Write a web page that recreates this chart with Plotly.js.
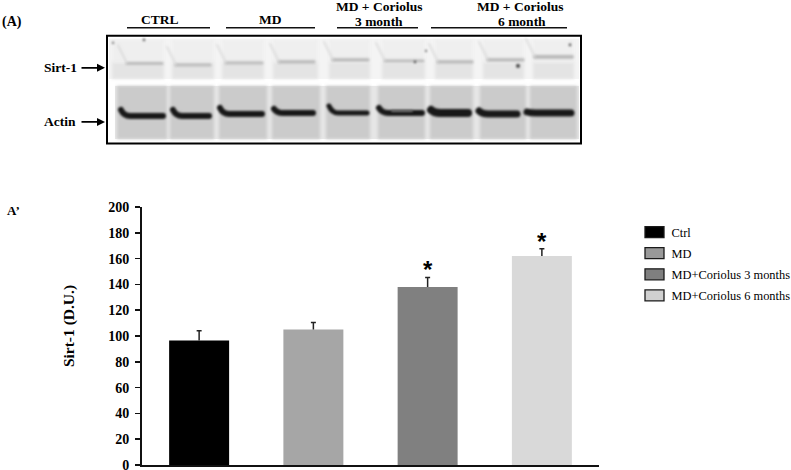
<!DOCTYPE html>
<html>
<head>
<meta charset="utf-8">
<script src="https://cdn.plot.ly/plotly-3.0.1.min.js"></script>
<style>
html,body{margin:0;padding:0;background:#fff;overflow:hidden}
</style>
</head>
<body>
<div id="plot" style="width:791px;height:470px"></div>
<script>
// bar chart values
let groups = ['Ctrl', 'MD', 'MD+Coriolus 3 months', 'MD+Coriolus 6 months'];
let means = [96.5, 105, 138, 162];
let errors = [7.5, 5.5, 7.4, 5.6];
let colors = ['#000000', '#a6a6a6', '#808080', '#d9d9d9'];
let swatchColors = ['#000000', '#999999', '#7f7f7f', '#d0d0d0'];
let starred = ['MD+Coriolus 3 months', 'MD+Coriolus 6 months'];

// blot lanes, in picture pixels: [left, right]
let sirtLanes = [[112,164],[172,214],[222,264],[273,318],[329,370],[382,425],[435,473],[483,524],[533,574]];
let actinLanes = [[117,167],[170,214],[219,267],[272,320],[326,370],[378,425],[430,473],[480,526],[530,577]];
// blot bands: [left, right, y, thickness, y of the left end]
let sirtBands = [[127,162,63.5,3],[176,210,65,3],[226,262,63,3],[279,314,62,3.5],[333,368,60,3.5],[385,423,61,3],[438,472,62,3.5],[488,523,60,3.5],[535,572,57,4]];
let actinBands = [[121,163,116,6,110],[173,209,116,6,110],[220,262,114,6,108],[274,313,113,6,109],[329,367,113,5,106],[379,422,113,6,108],[431,468,113,8,110],[479,517,114,7,111],[527,571,113,7,112]];
// specks on the membrane: [x, y, radius]
let specks = [[144,40,1.2],[113,43,1],[518,66,2],[570,45,1.3],[426,51,1],[415,62,1.2]];

// plot area in picture pixels, used to place the panel A items
const left = 142, width = 457, bottom = 464.7, height = 257.7;
function px(x){ return (x - left) / width; }
function py(y){ return (bottom - y) / height; }

function drawBlot(){
    let c = document.createElement('canvas');
    c.width = 476; c.height = 110;
    let g = c.getContext('2d');
    g.fillStyle = '#ffffff';
    g.fillRect(0, 0, 476, 110);
    g.translate(-106, -35);
    g.fillStyle = '#f4f4f4';
    g.fillRect(109, 39, 470, 40);
    g.fillStyle = '#e6e6e6';
    g.fillRect(115, 86, 464, 53);
    g.filter = 'blur(1.5px)';
    for (const l of sirtLanes) {
        g.fillStyle = '#efefef';
        g.fillRect(l[0], 40, l[1]-l[0], 23);
        g.fillStyle = '#e4e4e4';
        g.fillRect(l[0], 63, l[1]-l[0], 16);
    }
    for (const l of actinLanes) {
        g.fillStyle = '#cbcbcb';
        g.fillRect(l[0], 86, l[1]-l[0], 53);
    }
    g.filter = 'blur(1px)';
    g.lineCap = 'round';
    for (const b of sirtBands) {
        g.strokeStyle = '#bcbcbc';
        g.lineWidth = b[3];
        g.beginPath(); g.moveTo(b[0], b[2]); g.lineTo(b[1], b[2]); g.stroke();
        g.strokeStyle = '#d8d8d8';
        g.lineWidth = 1.5;
        g.beginPath(); g.moveTo(b[0]-9, b[2]-18); g.lineTo(b[0], b[2]); g.stroke();
    }
    for (const b of actinBands) {
        g.strokeStyle = '#181818';
        g.lineWidth = b[3];
        g.beginPath(); g.moveTo(b[0], b[4]); g.quadraticCurveTo(b[0]+3, b[2], b[0]+9, b[2]);
        g.lineTo(b[1], b[2]); g.stroke();
    }
    // lighter middle of the sixth actin band
    g.strokeStyle = '#777777'; g.lineWidth = 2;
    g.beginPath(); g.moveTo(392, 111); g.lineTo(412, 111); g.stroke();
    g.fillStyle = '#444444';
    for (const s of specks) {
        g.beginPath(); g.arc(s[0], s[1], s[2], 0, 7); g.fill();
    }
    return c.toDataURL('image/png');
}

let traces = [];
for (let i = 0; i < groups.length; i++) {
    traces.push({
        type: 'bar',
        name: groups[i],
        legendgroup: groups[i],
        x: [groups[i]],
        y: [means[i]],
        width: 0.525,
        marker: {color: colors[i]},
        error_y: {type: 'data', array: [errors[i]], symmetric: false, arrayminus: [0], color: '#222222', thickness: 1.5, width: 2.5},
        hoverinfo: 'y'
    });
}

const serif = '"Liberation Serif", serif';
function label(text, x, y, size, anchor){
    return {text: text, xref: 'paper', yref: 'paper', x: px(x), y: py(y), showarrow: false, xanchor: anchor || 'center', yanchor: 'middle',
        font: {family: serif, size: size, color: '#000000'}};
}
function arrow(x, y){
    return {text: '', xref: 'paper', yref: 'paper', x: px(x), y: py(y), ax: -25, ay: 0, showarrow: true, arrowhead: 2, arrowsize: 1, arrowwidth: 1.6, arrowcolor: '#000000'};
}
function rule(x0, x1, y){
    return {type: 'line', xref: 'paper', yref: 'paper', x0: px(x0), x1: px(x1), y0: py(y), y1: py(y), line: {color: '#111111', width: 1.5}};
}

let annotations = [
    label('<b>(A)</b>', 0, 22, 14, 'left'),
    label('<b>A’</b>', 5, 210, 13, 'left'),
    label('<b>CTRL</b>', 160, 20, 13.5),
    label('<b>MD</b>', 270, 20, 13.5),
    label('<b>MD + Coriolus</b>', 379, 7, 13.5),
    label('<b>3 month</b>', 379, 22, 13.5),
    label('<b>MD + Coriolus</b>', 520, 7, 13.5),
    label('<b>6 month</b>', 522, 22, 13.5),
    label('<b>Sirt-1</b>', 60, 68, 13.5),
    label('<b>Actin</b>', 60, 122, 13.5),
    arrow(105, 68),
    arrow(105, 122)
];
for (const s of starred) {
    let i = groups.indexOf(s);
    annotations.push({text: '*', x: s, y: means[i] + errors[i], yanchor: 'bottom', yshift: -8, showarrow: false,
        font: {family: '"Liberation Sans", sans-serif', size: 24, color: '#000000', weight: 'bold'}});
}

let layout = {
    width: 791,
    height: 470,
    margin: {l: 142, r: 192, t: 207.3, b: 5.3, pad: 0, autoexpand: false},
    paper_bgcolor: '#ffffff',
    plot_bgcolor: '#ffffff',
    barmode: 'overlay',
    xaxis: {type: 'category', range: [-0.5, 3.5], showticklabels: false, ticks: '', showline: true, linecolor: '#111111', linewidth: 2, showgrid: false, zeroline: false, fixedrange: true},
    yaxis: {range: [0, 200], tick0: 0, dtick: 20, ticks: 'outside', ticklen: 5, tickwidth: 1.6, tickcolor: '#111111', showline: true, linecolor: '#111111', linewidth: 2,
        showgrid: false, zeroline: false, fixedrange: true, ticklabeloverflow: 'allow', ticklabelstandoff: 3,
        tickfont: {family: serif, size: 14, color: '#000000', weight: 'bold'},
        title: {text: '<b>Sirt-1 (D.U.)</b>', standoff: 30, font: {family: serif, size: 15.5, color: '#000000'}}},
    showlegend: true,
    legend: {x: px(631.5), xanchor: 'left', y: py(217.5), yanchor: 'top', bgcolor: 'rgba(0,0,0,0)', borderwidth: 0, tracegroupgap: 2, itemwidth: 30,
        font: {family: serif, size: 12.4, color: '#000000'}},
    annotations: annotations,
    shapes: [
        rule(127, 210, 28), rule(226, 315, 28), rule(337, 418, 28), rule(431, 567, 28),
        {type: 'rect', xref: 'paper', yref: 'paper', x0: px(107), x1: px(581), y0: py(36), y1: py(143.5), line: {color: '#000000', width: 2}, fillcolor: 'rgba(0,0,0,0)', layer: 'above'}
    ],
    images: [{source: drawBlot(), xref: 'paper', yref: 'paper', x: px(106), y: py(35), sizex: 476/width, sizey: 110/height, sizing: 'stretch', xanchor: 'left', yanchor: 'top', layer: 'below'}]
};

Plotly.newPlot('plot', traces, layout, {displayModeBar: false, staticPlot: true}).then(function(gd){
    // legend boxes in the figure are wider than Plotly's square, with a dark outline
    gd.querySelectorAll('.legend .traces').forEach(function(t, i){
        let p = t.querySelector('.legendpoints path');
        if (!p) return;
        p.setAttribute('d', 'M12.5,5.5H-6.5V-5.5H12.5Z');
        p.style.fill = swatchColors[i];
        p.style.stroke = '#1a1a1a';
        p.style.strokeWidth = '1.3px';
    });
    // the figure's error bars have only the top cap
    gd.querySelectorAll('.errorbar path.yerror').forEach(function(p){
        p.setAttribute('d', p.getAttribute('d').replace(/(V[-\d.]+).*/, '$1'));
    });
    // axis title sits above the middle of the axis in the figure
    let t = gd.querySelector('.ytitle');
    t.setAttribute('transform', 'translate(0,-10) ' + (t.getAttribute('transform') || ''));
});
</script>
</body>
</html>
